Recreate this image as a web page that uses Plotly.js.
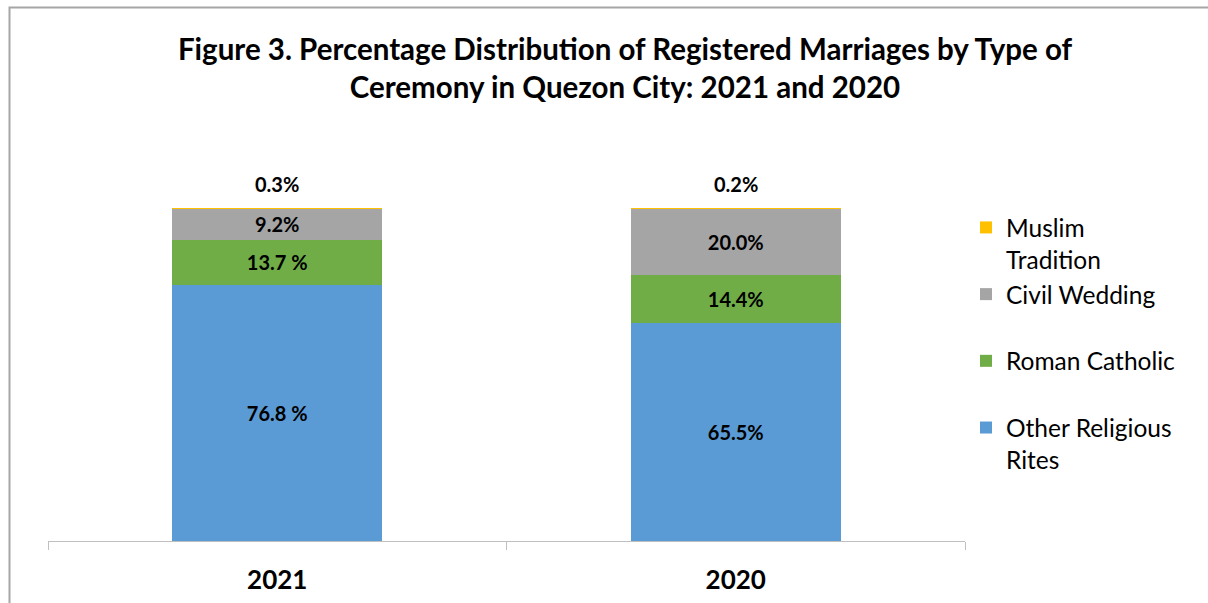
<!DOCTYPE html>
<html>
<head>
<meta charset="utf-8">
<script src="https://cdn.plot.ly/plotly-3.0.1.min.js"></script>
<style>html,body{margin:0;padding:0;background:#fff;}#chart{width:1208px;height:603px;}</style>
</head>
<body>
<div id="chart"></div>
<script>
const years = ["2021", "2020"];
const otherReligious = [76.8, 65.5];
const romanCatholic = [13.7, 14.4];
const civilWedding = [9.2, 20.0];
const muslimTradition = [0.3, 0.2];
const otherLabels = ["76.8 %", "65.5%"];
const romanLabels = ["13.7 %", "14.4%"];
const civilLabels = ["9.2%", "20.0%"];
const muslimLabels = ["0.3%", "0.2%"];

const FONT = "Lato, 'Open Sans', sans-serif";
const labelFont = {family: FONT, size: 20, color: "#000", weight: "bold"};

function bar(name, vals, labels, color) {
  const t = {
    type: "bar", x: years, y: vals, name: name,
    marker: {color: color},
    width: 0.458,
    hoverinfo: "x+y+name"
  };
  if (labels) {
    t.text = labels;
    t.textposition = "inside";
    t.insidetextanchor = "middle";
    t.textangle = 0;
    t.insidetextfont = labelFont;
  }
  return t;
}

const traces = [
  bar("Other Religious<br>Rites", otherReligious, otherLabels, "#5B9BD5"),
  bar("Roman Catholic<br> ", romanCatholic, romanLabels, "#70AD47"),
  bar("Civil Wedding<br> ", civilWedding, civilLabels, "#A5A5A5"),
  bar("Muslim<br>Tradition", muslimTradition, null, "#FFC000")
];

const totals = years.map((y, i) => otherReligious[i] + romanCatholic[i] + civilWedding[i] + muslimTradition[i]);
const annotations = years.map((y, i) => ({
  x: i, y: Math.min(totals[i], 100), xref: "x", yref: "y",
  text: muslimLabels[i], showarrow: false, yanchor: "bottom", yshift: 10,
  font: labelFont
}));

const layout = {
  width: 1208, height: 603,
  margin: {l: 48, r: 243, t: 208, b: 62},
  paper_bgcolor: "#fff", plot_bgcolor: "#fff",
  barmode: "stack",
  title: {
    text: "Figure 3. Percentage Distribution of Registered Marriages by Type of<br>Ceremony in Quezon City: 2021 and 2020",
    font: {family: FONT, size: 29.5, color: "#000", weight: "bold"},
    x: 625 / 1208, xanchor: "center", xref: "container",
    y: 1 - 60 / 603, yanchor: "middle", yref: "container"
  },
  xaxis: {
    type: "category",
    range: [-0.5, 1.5],
    showline: true, linecolor: "#BFBFBF", linewidth: 1,
    ticks: "outside", tickson: "boundaries", ticklen: 8, tickcolor: "#BFBFBF",
    ticklabelstandoff: 16,
    tickfont: {family: FONT, size: 26, color: "#000", weight: "bold"},
    showgrid: false, zeroline: false
  },
  yaxis: {
    range: [0, 100], visible: false, showgrid: false, zeroline: false
  },
  showlegend: true,
  legend: {
    x: 1 + (966 - 965) / 917, xanchor: "left",
    y: 1 - (205 - 208) / 333, yanchor: "top",
    traceorder: "reversed",
    valign: "top",
    font: {family: FONT, size: 24.5, color: "#000"},
    bgcolor: "rgba(0,0,0,0)"
  },
  annotations: annotations,
  shapes: [{
    type: "rect", xref: "paper", yref: "paper",
    x0: (9.5 - 48) / 917, x1: (1260 - 48) / 917,
    y0: (541 - 650) / 333, y1: (541 - 7.5) / 333,
    line: {color: "#A6A6A6", width: 2}, fillcolor: "rgba(0,0,0,0)", layer: "below"
  }]
};

Plotly.newPlot("chart", traces, layout, {displayModeBar: false});
</script>
</body>
</html>
